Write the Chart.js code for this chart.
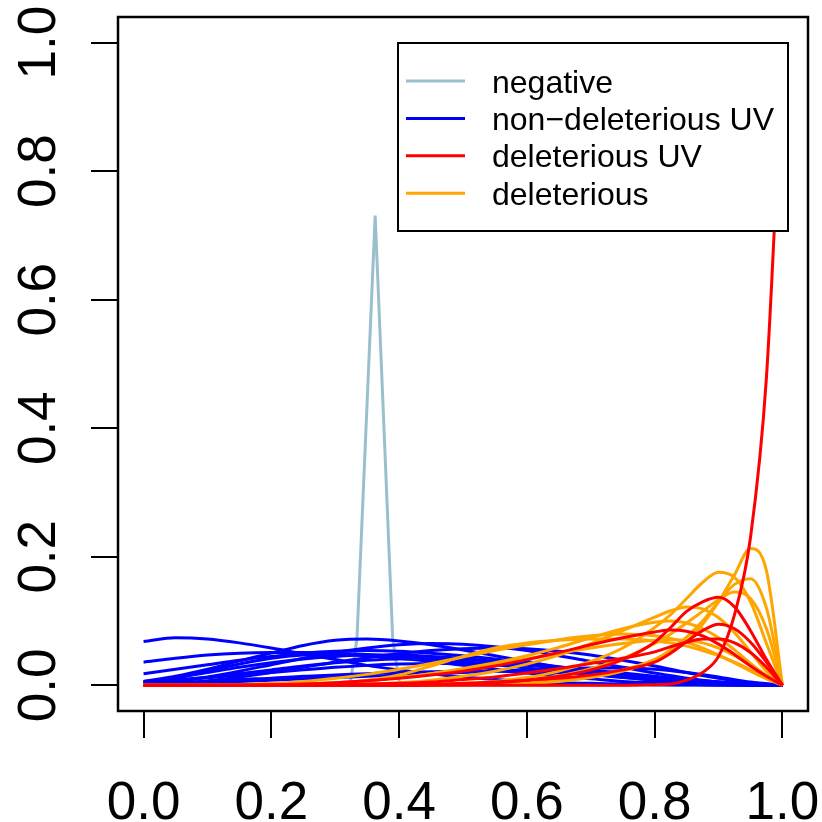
<!DOCTYPE html>
<html>
<head>
<meta charset="utf-8">
<script src="https://cdn.jsdelivr.net/npm/chart.js@4.4.1/dist/chart.umd.min.js"></script>
<style>
  body { margin: 0; background: #fff; }
  canvas { display: block; }
</style>
</head>
<body>
<canvas id="grafica" width="822" height="822"></canvas>
<script>
// Rejillas de x
const xGrid = [0, 0.05, 0.1, 0.15, 0.2, 0.25, 0.3, 0.35, 0.4, 0.45, 0.5, 0.55, 0.6, 0.65, 0.7, 0.75, 0.8, 0.85, 0.9, 0.95, 1];
const xFine = [0, 0.05, 0.1, 0.15, 0.2, 0.25, 0.3, 0.35, 0.4, 0.45, 0.5, 0.55, 0.6, 0.65, 0.7, 0.75, 0.8, 0.825, 0.85, 0.875, 0.9, 0.925, 0.95, 0.975, 1];

const xTicks = [0, 0.2, 0.4, 0.6, 0.8, 1];
const yTicks = [0, 0.2, 0.4, 0.6, 0.8, 1];
const tickLabels = ['0.0', '0.2', '0.4', '0.6', '0.8', '1.0'];

const legendLabels = ['negative', 'non\u2212deleterious UV', 'deleterious UV', 'deleterious'];
const legendColors = ['#9AC0CD', '#0000FF', '#FF0000', '#FFA500'];

// negative (pico)
const negX = [0, 0.323, 0.334, 0.3625, 0.39, 0.401, 1];
const negY = [0, 0, 0.072, 0.731, 0.072, 0, 0];

// non-deleterious UV (sobre xGrid)
const nonDelUV = [
  [.068, .074, .072, .066, .058, .049, .040, .031, .024, .018, .013, .009, .006, .004, .003, .002, .001, .0005, 0, 0, 0],
  [.036, .042, .047, .050, .051, .051, .050, .048, .045, .041, .037, .032, .027, .022, .017, .012, .008, .005, .002, .001, 0],
  [.018, .025, .032, .039, .045, .050, .053, .054, .053, .050, .046, .041, .035, .029, .023, .017, .011, .007, .003, .001, 0],
  [.006, .014, .025, .038, .050, .062, .070, .072, .069, .063, .055, .046, .037, .028, .020, .013, .008, .004, .002, .0005, 0],
  [.002, .006, .013, .022, .032, .042, .051, .058, .063, .065, .064, .060, .054, .046, .037, .028, .019, .011, .005, .001, 0],
  [.001, .003, .007, .013, .020, .028, .036, .043, .049, .054, .057, .058, .057, .053, .047, .039, .030, .020, .011, .004, 0],
  [.005, .012, .020, .028, .035, .041, .045, .047, .047, .045, .042, .037, .032, .026, .020, .015, .010, .006, .003, .001, 0],
  [.003, .007, .012, .018, .024, .030, .035, .039, .041, .041, .040, .037, .033, .028, .023, .018, .013, .008, .004, .001, 0],
  [0, .010, .022, .033, .042, .047, .048, .046, .042, .037, .031, .025, .019, .014, .010, .006, .004, .002, .001, 0, 0],
  [.002, .004, .006, .009, .011, .014, .016, .018, .020, .021, .022, .022, .021, .020, .018, .015, .012, .009, .005, .002, 0],
  [.001, .002, .004, .006, .008, .010, .012, .014, .016, .018, .020, .022, .024, .026, .027, .027, .025, .020, .013, .005, 0],
  [.006, .009, .012, .016, .020, .024, .028, .031, .033, .034, .034, .033, .031, .028, .024, .019, .014, .009, .005, .002, 0]
];

// deleterious (sobre xFine)
const deleterious = [
  [0, 0, 0, 0, 0, 0, 0, 0, 0, 0, .001, .002, .004, .008, .014, .024, .040, .052, .068, .095, .130, .172, .213, .178, 0],
  [0, 0, 0, 0, 0, 0, 0, 0, 0, .001, .003, .006, .012, .022, .037, .058, .090, .110, .135, .160, .176, .168, .130, .065, 0],
  [0, 0, 0, 0, 0, 0, 0, 0, 0, 0, .001, .002, .003, .006, .012, .022, .040, .055, .075, .100, .130, .157, .166, .120, 0],
  [0, 0, 0, 0, 0, 0, 0, 0, 0, .001, .002, .004, .008, .015, .026, .042, .065, .080, .097, .115, .133, .145, .135, .088, 0],
  [0, 0, 0, 0, 0, 0, .001, .002, .004, .008, .014, .022, .033, .047, .065, .085, .106, .116, .122, .119, .105, .082, .052, .022, 0],
  [0, 0, 0, 0, .001, .002, .004, .007, .012, .018, .026, .035, .046, .059, .074, .088, .098, .100, .097, .088, .074, .055, .034, .015, 0],
  [0, 0, 0, .001, .003, .006, .011, .017, .025, .034, .044, .054, .063, .071, .077, .080, .077, .073, .067, .058, .047, .035, .022, .010, 0],
  [0, 0, 0, 0, 0, 0, .003, .008, .016, .030, .045, .058, .066, .070, .072, .072, .069, .066, .061, .054, .046, .036, .024, .011, 0],
  [0, 0, 0, 0, .001, .002, .004, .007, .012, .018, .025, .033, .041, .050, .058, .065, .070, .071, .070, .066, .058, .046, .031, .015, 0]
];

// deleterious UV (sobre xFine)
const delUV = [
  [0, 0, 0, 0, 0, 0, 0, 0, 0, 0, 0, 0, 0, 0, 0, 0, .001, .002, .008, .020, .045, .110, .230, .480, .980],
  [0, 0, 0, 0, 0, 0, 0, 0, 0, .001, .002, .004, .008, .014, .024, .040, .067, .090, .115, .130, .137, .122, .085, .040, 0],
  [0, 0, 0, 0, 0, 0, 0, 0, 0, .001, .003, .005, .008, .011, .016, .024, .036, .050, .068, .085, .095, .088, .067, .036, 0],
  [0, 0, 0, 0, .001, .002, .004, .007, .011, .016, .022, .030, .040, .051, .063, .074, .083, .086, .084, .077, .064, .048, .030, .014, 0],
  [0, 0, 0, 0, 0, 0, .001, .002, .003, .005, .009, .013, .019, .026, .034, .042, .052, .060, .067, .072, .072, .066, .051, .028, 0]
];

function puntos(xs, ys) {
  return xs.map((x, i) => ({ x: x, y: ys[i] }));
}

const datasets = [];
datasets.push({ data: puntos(negX, negY), borderColor: legendColors[0], tension: 0, order: 4 });
nonDelUV.forEach(serie => datasets.push({ data: puntos(xGrid, serie), borderColor: legendColors[1], cubicInterpolationMode: 'monotone', order: 3 }));
deleterious.forEach(serie => datasets.push({ data: puntos(xFine, serie), borderColor: legendColors[3], cubicInterpolationMode: 'monotone', order: 2 }));
delUV.forEach(serie => datasets.push({ data: puntos(xFine, serie), borderColor: legendColors[2], cubicInterpolationMode: 'monotone', order: 1 }));

const fuente = '"Liberation Sans", Arial, sans-serif';

// Caja, etiquetas de ejes y leyenda al estilo de R
const estiloR = {
  id: 'estiloR',
  afterDatasetsDraw(chart) {
    const ctx = chart.ctx;
    const a = chart.chartArea;
    // leyenda
    const w = 390, h = 188;
    const left = a.right - 20 - w, top = a.top + 26;
    ctx.save();
    ctx.fillStyle = '#fff';
    ctx.fillRect(left, top, w, h);
    ctx.strokeStyle = '#000';
    ctx.lineWidth = 2;
    ctx.strokeRect(left, top, w, h);
    ctx.font = '32px ' + fuente;
    ctx.textAlign = 'left';
    ctx.textBaseline = 'alphabetic';
    legendLabels.forEach((txt, i) => {
      const yy = top + 38 + i * 37.4;
      ctx.strokeStyle = legendColors[i];
      ctx.lineWidth = 3;
      ctx.beginPath();
      ctx.moveTo(left + 8, yy);
      ctx.lineTo(left + 67, yy);
      ctx.stroke();
      ctx.fillStyle = '#000';
      ctx.fillText(txt, left + 94, yy + 11.5);
    });
    ctx.restore();
  },
  afterDraw(chart) {
    const ctx = chart.ctx;
    const a = chart.chartArea;
    const sx = chart.scales.x, sy = chart.scales.y;
    ctx.save();
    ctx.strokeStyle = '#000';
    ctx.lineWidth = 2.5;
    ctx.strokeRect(a.left, a.top, a.right - a.left, a.bottom - a.top);
    ctx.fillStyle = '#000';
    ctx.font = '53px ' + fuente;
    ctx.textAlign = 'center';
    ctx.textBaseline = 'alphabetic';
    xTicks.forEach((v, i) => {
      ctx.fillText(tickLabels[i], sx.getPixelForValue(v), 800 + 19);
    });
    yTicks.forEach((v, i) => {
      ctx.save();
      ctx.translate(36, sy.getPixelForValue(v));
      ctx.rotate(-Math.PI / 2);
      ctx.fillText(tickLabels[i], 0, 19);
      ctx.restore();
    });
    ctx.restore();
  }
};

new Chart(document.getElementById('grafica'), {
  type: 'line',
  data: { datasets: datasets },
  options: {
    responsive: false,
    animation: false,
    parsing: true,
    layout: { padding: { top: 17, right: 14, left: 0, bottom: 0 } },
    elements: {
      point: { radius: 0 },
      line: { borderWidth: 3, fill: false }
    },
    scales: {
      x: {
        type: 'linear',
        min: -0.04,
        max: 1.04,
        afterBuildTicks: s => { s.ticks = xTicks.map(v => ({ value: v })); },
        afterFit: s => { s.height = 111; },
        ticks: { display: false },
        grid: { drawOnChartArea: false, drawTicks: true, tickLength: 27, color: '#000', lineWidth: 2 },
        border: { display: false }
      },
      y: {
        type: 'linear',
        min: -0.04,
        max: 1.04,
        afterBuildTicks: s => { s.ticks = yTicks.map(v => ({ value: v })); },
        afterFit: s => { s.width = 118; },
        ticks: { display: false },
        grid: { drawOnChartArea: false, drawTicks: true, tickLength: 27, color: '#000', lineWidth: 2 },
        border: { display: false }
      }
    },
    plugins: {
      legend: { display: false },
      tooltip: { enabled: false }
    }
  },
  plugins: [estiloR]
});
</script>
</body>
</html>
